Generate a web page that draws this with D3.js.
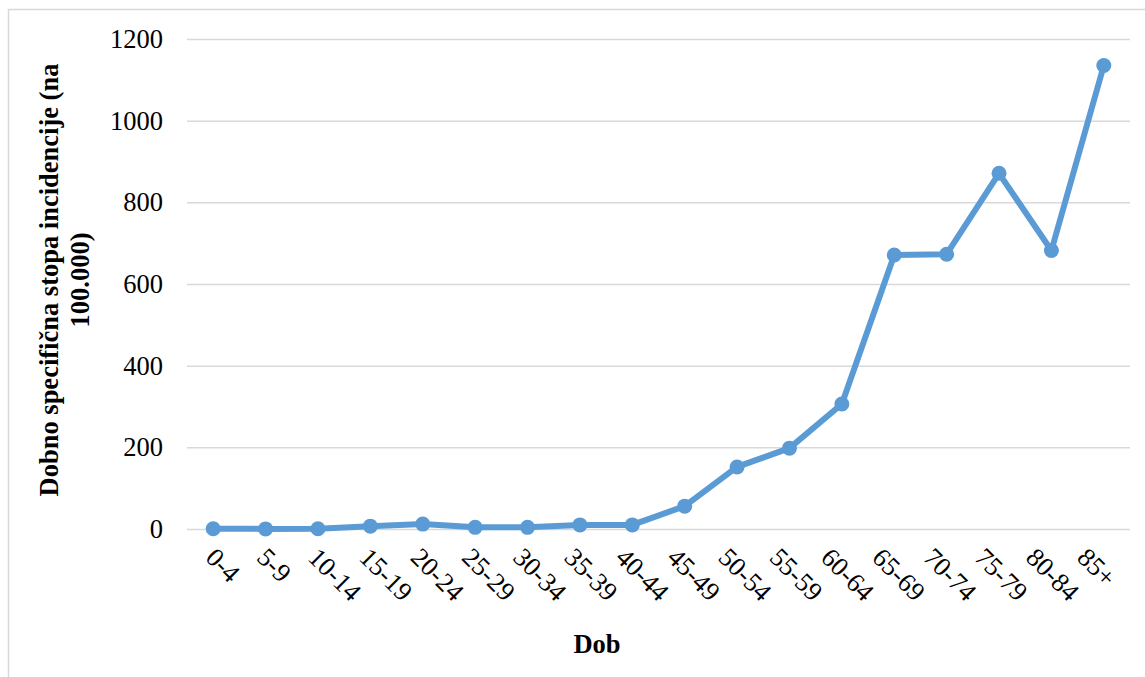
<!DOCTYPE html>
<html>
<head>
<meta charset="utf-8">
<script src="https://cdn.jsdelivr.net/npm/d3@7"></script>
<style>
  body { margin: 0; background: #fff; }
  text { font-family: 'Liberation Serif', 'Times New Roman', serif; fill: #000; }
</style>
</head>
<body>
<div class="chart-container"></div>
<script>
const width = 1145;
const height = 677;

// data
const ageGroups = ['0-4', '5-9', '10-14', '15-19', '20-24', '25-29', '30-34', '35-39', '40-44',
  '45-49', '50-54', '55-59', '60-64', '65-69', '70-74', '75-79', '80-84', '85+'];
const incidence = [0.5, 0.3, 0.5, 7, 12, 4, 4, 10, 10, 56, 152, 198, 306, 671, 673, 871, 682, 1135];
const yTicks = [0, 200, 400, 600, 800, 1000, 1200];

const yTitleLines = ['Dobno specifična stopa incidencije (na', '100.000)'];
const xTitle = 'Dob';

const margin = { top: 39, right: 15, bottom: 148, left: 187 };
const plotW = width - margin.left - margin.right;
const plotH = height - margin.top - margin.bottom;

const svg = d3.select('.chart-container').append('svg')
  .attr('width', width)
  .attr('height', height);

// chart area border (cut off at right/bottom like the reference)
svg.append('rect')
  .attr('x', 8.5).attr('y', 9.5)
  .attr('width', width + 10).attr('height', height + 10)
  .attr('fill', 'none').attr('stroke', '#d9d9d9').attr('stroke-width', 1.5);

const g = svg.append('g').attr('transform', 'translate(' + margin.left + ',' + margin.top + ')');

const scaleX = d3.scaleBand().domain(ageGroups).range([0, plotW]);
const scaleY = d3.scaleLinear().domain([0, 1200]).range([plotH, 0]);
const cx = (d) => scaleX(d) + scaleX.bandwidth() / 2;

// gridlines + y labels
const yAxis = g.append('g')
  .call(d3.axisLeft(scaleY).tickValues(yTicks).tickFormat(d3.format('d')).tickSize(-plotW).tickPadding(24));
yAxis.select('.domain').remove();
yAxis.selectAll('.tick line').attr('stroke', '#d9d9d9').attr('stroke-width', 1.5);
yAxis.selectAll('.tick text')
  .style('font-family', "'Liberation Serif', serif")
  .style('font-size', '26.5px')
  .attr('fill', '#000');

// x labels, rotated 45deg
const labelX = d3.scalePoint().domain(ageGroups).range([cx(ageGroups[0]) + 2, cx(ageGroups[ageGroups.length - 1]) - 17]);
g.append('g').selectAll('text').data(ageGroups).join('text')
  .attr('transform', (d) => 'translate(' + (labelX(d) - 11) + ',' + (plotH + 30) + ') rotate(45)')
  .style('font-size', '26.5px')
  .text((d) => d);

// line
const line = d3.line()
  .x((d, i) => cx(ageGroups[i]))
  .y((d) => scaleY(d));

g.append('path')
  .attr('d', line(incidence))
  .attr('fill', 'none')
  .attr('stroke', '#5b9bd5')
  .attr('stroke-width', 6)
  .attr('stroke-linejoin', 'round');

g.append('g').selectAll('circle').data(incidence).join('circle')
  .attr('cx', (d, i) => cx(ageGroups[i]))
  .attr('cy', (d) => scaleY(d))
  .attr('r', 7.5)
  .attr('fill', '#5b9bd5');

// axis titles
svg.append('text')
  .attr('x', 597).attr('y', 653)
  .attr('text-anchor', 'middle')
  .style('font-size', '26.5px').style('font-weight', 'bold')
  .text(xTitle);

const yTitle = svg.append('text')
  .attr('transform', 'translate(58,280) rotate(-90)')
  .attr('text-anchor', 'middle')
  .style('font-size', '26.5px').style('font-weight', 'bold');
yTitle.selectAll('tspan').data(yTitleLines).join('tspan')
  .attr('x', 0)
  .attr('dy', (d, i) => i === 0 ? 0 : 31)
  .text((d) => d);
</script>
</body>
</html>
